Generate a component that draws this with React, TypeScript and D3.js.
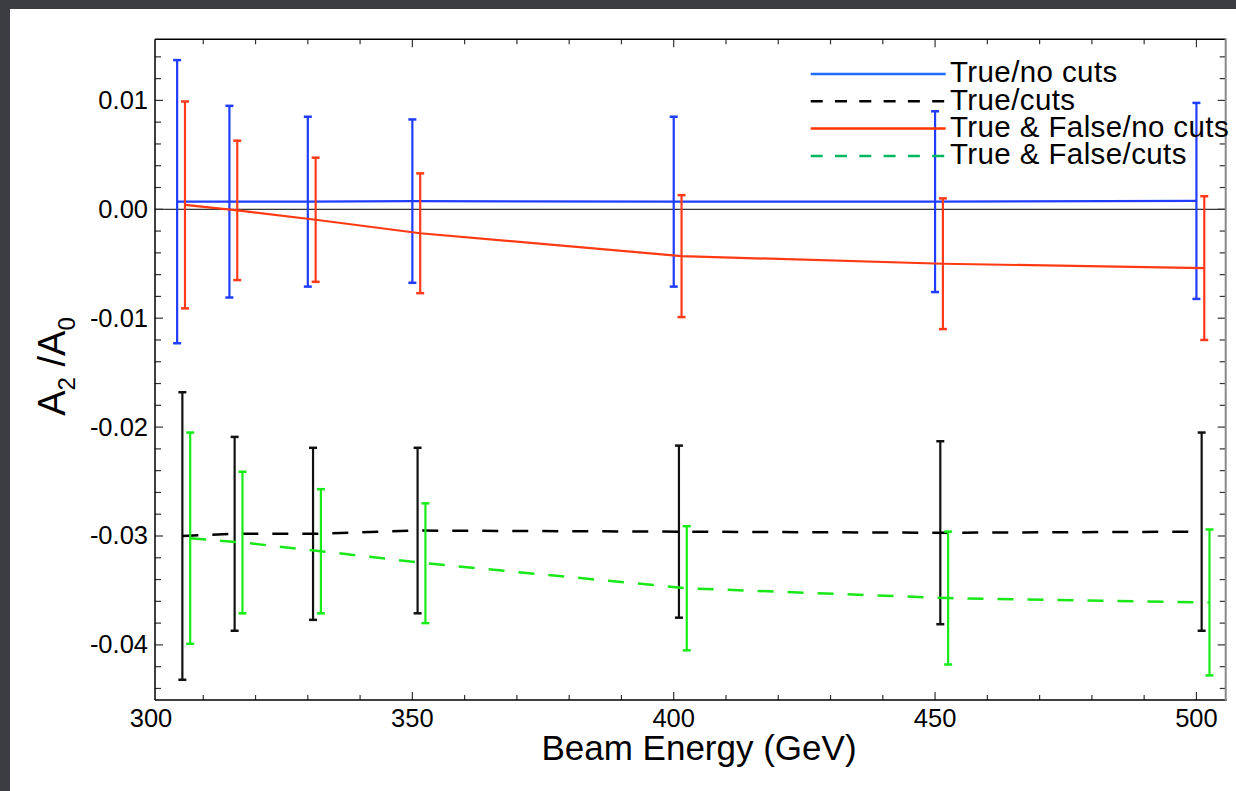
import React from "react";
import * as d3 from "d3";

// ---------- data ----------
const energies = [305, 315, 330, 350, 400, 450, 500];

// True/no cuts (blue)
const trueNoCutsVal = [0.0007, 0.0007, 0.0007, 0.00075, 0.0007, 0.0007, 0.00077];
const trueNoCutsErr = [0.013, 0.0088, 0.0078, 0.0075, 0.0078, 0.0083, 0.009];

// True/cuts (black dashed)
const trueCutsVal = [-0.03, -0.0298, -0.0298, -0.0295, -0.0296, -0.0297, -0.0296];
const trueCutsErr = [0.0132, 0.0089, 0.0079, 0.0076, 0.0079, 0.0084, 0.0091];

// True & False/no cuts (red)
const tfNoCutsVal = [0.0004, -0.0001, -0.00096, -0.0022, -0.0043, -0.005, -0.0054];
const tfNoCutsErr = [0.0095, 0.0064, 0.0057, 0.0055, 0.0056, 0.006, 0.0066];

// True & False/cuts (green dashed)
const tfCutsVal = [-0.0302, -0.0306, -0.0314, -0.0325, -0.0348, -0.0357, -0.0361];
const tfCutsErr = [0.0097, 0.0065, 0.0057, 0.0055, 0.0057, 0.0061, 0.0067];

const xTickLabels = [300, 350, 400, 450, 500];
const yTickLabels = [0.01, 0.0, -0.01, -0.02, -0.03, -0.04];
const legendLabels = ["True/no cuts", "True/cuts", "True & False/no cuts", "True & False/cuts"];

// ---------- layout ----------
const W = 1236;
const H = 791;
const left = 155;
const right = 1225.7;
const top = 39.3;
const bottom = 700;
const FONT = "'Liberation Sans', Arial, Helvetica, sans-serif";

const x = d3.scaleLinear().domain([300.765, 505.6]).range([left, right]);
const y = d3.scaleLinear().domain([0.01561, -0.04506]).range([top, bottom]);

type Series = {
  vals: number[];
  errs: number[];
  offset: number;
  lineColor: string;
  barColor: string;
  legendColor: string;
  dash: string | null;
  legendDash: string | null;
};

const series: Series[] = [
  { vals: trueNoCutsVal, errs: trueNoCutsErr, offset: 0, lineColor: "#1f3cff", barColor: "#1f3cff", legendColor: "#1f6cff", dash: null, legendDash: null },
  { vals: trueCutsVal, errs: trueCutsErr, offset: 1, lineColor: "#000000", barColor: "#111111", legendColor: "#000000", dash: "16,14", legendDash: "12,12.3" },
  { vals: tfNoCutsVal, errs: tfNoCutsErr, offset: 1.5, lineColor: "#ff3a12", barColor: "#ff3a1a", legendColor: "#ff3300", dash: null, legendDash: null },
  { vals: tfCutsVal, errs: tfCutsErr, offset: 2.5, lineColor: "#18e818", barColor: "#18ec18", legendColor: "#00b860", dash: "16,14", legendDash: "12,12.3" },
];

function fmtY(v: number): string {
  const r = Math.round(v * 100) / 100;
  if (Math.abs(r) < 1e-9) return "0.00";
  return (r < 0 ? "-" : "") + Math.abs(r).toFixed(2);
}

export default function App() {
  const line = d3
    .line<[number, number]>()
    .x((d) => x(d[0]))
    .y((d) => y(d[1]));

  // ticks
  const xTicks: number[] = [];
  for (let e = 310; e <= 500; e += 10) xTicks.push(e);
  const yTicks: number[] = [];
  for (let k = -22; k <= 7; k++) yTicks.push(k * 0.002);

  const isMajorY = (v: number) => Math.abs(Math.round(v * 100) - v * 100) < 1e-6;

  return (
    <svg width={W} height={H} style={{ position: "absolute", left: 0, top: 0 }} fontFamily={FONT}>
      <rect x={0} y={0} width={W} height={H} fill="#3c3d42" />
      <rect x={10} y={9} width={W - 10} height={H - 9} fill="#ffffff" />

      {/* zero line */}
      <line x1={left} x2={right} y1={y(0)} y2={y(0)} stroke="#000" strokeWidth={1} />

      {/* data */}
      {series.map((s, si) => {
        const pts: [number, number][] = energies.map((e, i) => [e + s.offset, s.vals[i]]);
        return (
          <g key={si}>
            {energies.map((e, i) => {
              const cx = x(e + s.offset);
              const y1 = y(s.vals[i] + s.errs[i]);
              const y2 = y(s.vals[i] - s.errs[i]);
              return (
                <g key={i} stroke={s.barColor} strokeWidth={2.2}>
                  <line x1={cx} x2={cx} y1={y1} y2={y2} />
                  <line x1={cx - 4} x2={cx + 4} y1={y1} y2={y1} strokeWidth={2.5} />
                  <line x1={cx - 4} x2={cx + 4} y1={y2} y2={y2} strokeWidth={2.5} />
                </g>
              );
            })}
            <path
              d={line(pts) || ""}
              fill="none"
              stroke={s.lineColor}
              strokeWidth={s.dash ? 2.5 : 2.2}
              strokeDasharray={s.dash || undefined}
            />
          </g>
        );
      })}

      {/* ticks */}
      <g stroke="#333" strokeWidth={1.2}>
        {xTicks.map((e) => {
          const len = e % 50 === 0 ? 8 : 5;
          const px = x(e);
          return (
            <g key={e}>
              <line x1={px} x2={px} y1={bottom} y2={bottom - len} />
              <line x1={px} x2={px} y1={top} y2={top + len} />
            </g>
          );
        })}
        {yTicks.map((v) => {
          const len = isMajorY(v) ? 8 : 6;
          const py = y(v);
          return (
            <g key={v.toFixed(4)}>
              <line x1={left} x2={left + len} y1={py} y2={py} />
              <line x1={right} x2={right - len} y1={py} y2={py} />
            </g>
          );
        })}
      </g>

      {/* frame */}
      <line x1={left} x2={right} y1={top} y2={top} stroke="#000" strokeWidth={1.5} />
      <line x1={left} x2={right + 1} y1={bottom} y2={bottom} stroke="#000" strokeWidth={1.5} />
      <line x1={left} x2={left} y1={top} y2={bottom} stroke="#000" strokeWidth={1.5} />
      <line x1={right} x2={right} y1={top - 0.7} y2={bottom + 0.7} stroke="#888" strokeWidth={2} />

      {/* tick labels */}
      {xTickLabels.map((e) => (
        <text key={e} x={x(e)} y={727} textAnchor="middle" fontSize={25.5} fill="#000">
          {e}
        </text>
      ))}
      {yTickLabels.map((v) => (
        <text key={v} x={148} y={y(v) + 8.5} textAnchor="end" fontSize={25.5} fill="#000">
          {fmtY(v)}
        </text>
      ))}

      {/* axis titles */}
      <text x={699} y={760} textAnchor="middle" fontSize={35} fill="#000">
        Beam Energy (GeV)
      </text>
      <text transform="translate(65,366.5) rotate(-90)" textAnchor="middle" fontSize={38} fill="#000">
        <tspan>A</tspan>
        <tspan fontSize={24} dy={10}>2</tspan>
        <tspan dy={-10}> /A</tspan>
        <tspan fontSize={24} dy={10}>0</tspan>
      </text>

      {/* legend */}
      {legendLabels.map((lab, i) => {
        const s = series[i];
        const ly = 74 + i * 27.3;
        return (
          <g key={lab}>
            <line
              x1={810.7}
              x2={945.7}
              y1={ly}
              y2={ly}
              stroke={s.legendColor}
              strokeWidth={2.5}
              strokeDasharray={s.legendDash || undefined}
            />
            <text x={950} y={ly + 8.3} fontSize={29.5} letterSpacing={0.4} fill="#000">
              {lab}
            </text>
          </g>
        );
      })}
    </svg>
  );
}
